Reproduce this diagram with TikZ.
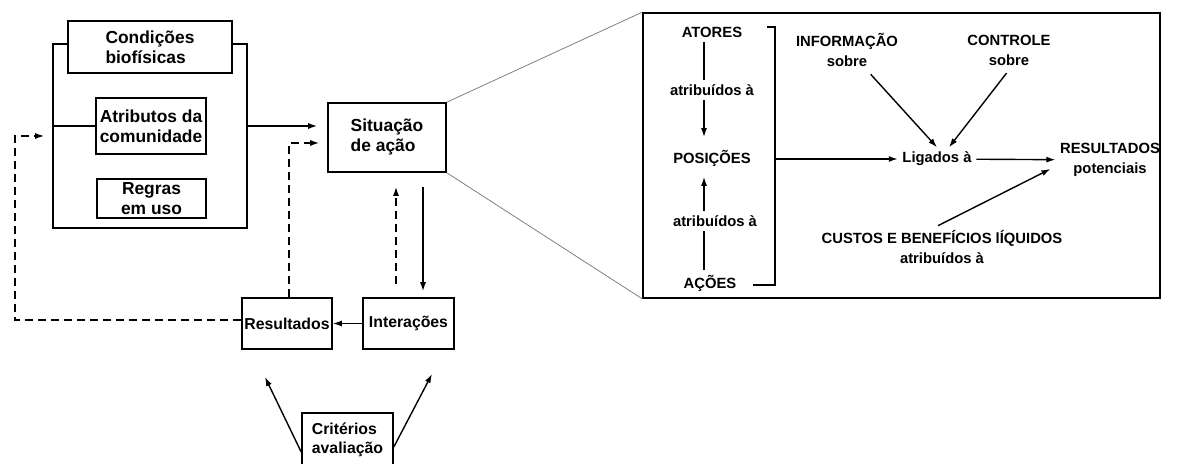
\documentclass[tikz,border=0pt]{standalone}
\usepackage{fontspec}
\setmainfont{Liberation Sans}
\usetikzlibrary{arrows.meta}

\begin{document}
\begin{tikzpicture}[x=0.5pt, y=-0.5pt, line width=0.7pt, >={Latex[length=4.5pt,width=3pt]}]
    \tikzset{
      bx/.style={draw, line width=0.8pt, fill=white, inner sep=0pt,
                 font=\fontsize{8.7}{10}\selectfont\bfseries},
      sm/.style={bx, font=\fontsize{7.9}{9.6}\selectfont\bfseries},
      tx/.style={inner sep=2pt, align=center, font=\fontsize{7.4}{10}\selectfont\bfseries},
      fb/.style={dash pattern=on 4pt off 2.5pt},
      zm/.style={draw=gray, line width=0.4pt},
    }
    \useasboundingbox (0,0) rectangle (1177,464);

    \node[bx, minimum width=97pt, minimum height=92pt] (ctx) at (150,136) {};
    \node[bx, align=left, minimum width=82pt, minimum height=26pt] (bio) at (150,47) {Condições\\biofísicas};
    \node[bx, align=left, minimum width=55pt, minimum height=28pt] (atr) at (151,126) {Atributos da\\comunidade};
    \node[bx, align=center, minimum width=54.5pt, minimum height=19.5pt] (reg) at (151.5,198.5) {Regras\\em uso};
    \node[bx, align=left, minimum width=59pt, minimum height=34.5pt] (sit) at (387,137.5) {Situação\\de ação};
    \node[sm, minimum width=45pt, minimum height=25.5pt] (res) at (287,323.5) {Resultados};
    \node[sm, minimum width=45.5pt, minimum height=25.5pt] (int) at (408.5,323.5) {Interações};
    \node[sm, align=left, minimum width=45.5pt, minimum height=27pt] (crit) at (347.5,440) {Critérios\\avaliação};

    \draw (ctx.west |- atr) -- (atr.west);
    \draw[->, shorten >=5pt] (ctx.east |- atr) -- (sit.west |- atr);
    \draw[->] (int) -- (res);

    \coordinate (dn) at ([xshift=7.25pt]int.north);
    \coordinate (up) at ([xshift=-6.25pt]int.north);
    \draw[->, shorten <=7pt, shorten >=3pt] (dn |- sit.south) -- (dn);
    \draw[->, fb, shorten <=6.5pt, shorten >=7pt] (up) -- (up |- sit.south);

    \coordinate (fbl) at (15,320);
    \draw[->, fb, shorten >=4pt] ([yshift=1.75pt]res.west) -- (fbl) |- (ctx.west);
    \draw[->, fb, shorten >=4pt] ([xshift=1pt]res.north) |- ([yshift=-2.75pt]sit.west);

    \coordinate (cl) at (265,377);
    \coordinate (cr) at (432,374);
    \draw[->] ([yshift=-6pt]crit.west) -- (cl);
    \draw[->] ([yshift=-3.5pt]crit.east) -- (cr);

    % zoomed action situation
    \node[draw, line width=0.8pt, minimum width=258.5pt, minimum height=142.5pt] (zoom) at (901.5,155.5) {};
    \draw[zm] (sit.north east) -- (zoom.north west);
    \draw[zm] (sit.south east) -- (zoom.south west);

    \node[tx] (ato) at (712,32) {ATORES};
    \node[tx] (at1) at (712,90) {atribuídos à};
    \node[tx] (pos) at (712,158) {POSIÇÕES};
    \node[tx] (at2) at (715,221) {atribuídos à};
    \node[tx] (aco) at (710,283) {AÇÕES};
    \node[tx] (inf) at (847,50) {INFORMAÇÃO\\sobre};
    \node[tx] (ctl) at (1009,50) {CONTROLE\\sobre};
    \node[tx] (lig) at (937,159) {Ligados à};
    \node[tx] (pot) at (1110,160) {RESULTADOS\\potenciais};
    \node[tx] (cus) at (942,247) {CUSTOS E BENEFÍCIOS lÍQUIDOS\\atribuídos à};

    \coordinate (col) at (704,0);
    \draw (col |- ato.south) -- (col |- at1.north);
    \draw[->, shorten >=4pt] (col |- at1.south) -- (col |- pos.north);
    \draw (col |- aco.north) -- (col |- at2.south);
    \draw[->, shorten >=3pt] (col |- at2.north) -- (col |- pos.south);

    \coordinate (brt) at (775,27);
    \coordinate (brb) at (775,285);
    \draw (brt) ++(-8,0) -- (brt) -- (brb) -- ++(-22,0);

    \draw[->] (brt |- lig) -- (lig);
    \draw[->] (lig) -- (pot);
    \draw[->, shorten <=2pt] ([xshift=10.5pt]inf.south) -- (lig.north);
    \draw[->, shorten <=2pt] (ctl.south) -- ([xshift=6pt]lig.north);
    \draw[->] ([xshift=-2pt]cus.north) -- ([shift={(-2.5pt,-4.5pt)}]pot.west);
  \end{tikzpicture}
\end{document}
